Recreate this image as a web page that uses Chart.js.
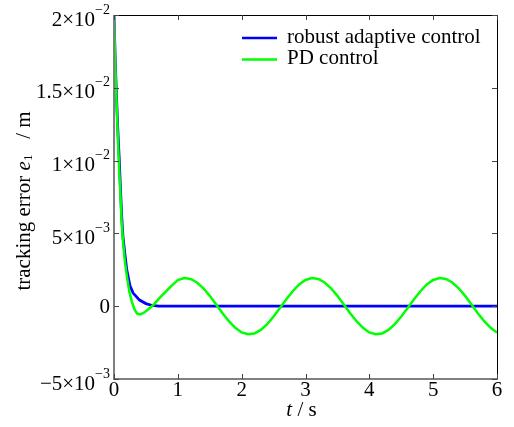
<!DOCTYPE html>
<html>
<head>
<meta charset="utf-8">
<script src="https://cdn.jsdelivr.net/npm/chart.js@4/dist/chart.umd.min.js"></script>
<style>
  body { margin: 0; background: #fff; }
  canvas { display: block; }
</style>
</head>
<body>
<canvas id="errChart" width="514" height="427"></canvas>
<script>
//tracking error data, y values in units of 1e-3 m
var raTime = [0, 0.02, 0.04, 0.06, 0.08, 0.1, 0.12, 0.14, 0.17, 0.2, 0.25, 0.3, 0.4, 0.5, 0.6, 0.7, 1, 2, 3, 4, 5, 6];
var raError = [20, 16.8, 14.3, 12.1, 10.3, 8.2, 6.2, 4.8, 3.6, 2.5, 1.4, 0.9, 0.42, 0.18, 0.05, 0, 0, 0, 0, 0, 0, 0];

var pdTime = [0, 0.02, 0.04, 0.06, 0.08, 0.1, 0.12, 0.14, 0.17, 0.2, 0.24, 0.28, 0.32, 0.36, 0.4, 0.45, 0.5, 0.56, 0.62, 0.7, 0.8, 0.9, 1.0, 1.1,
  1.2, 1.3, 1.4, 1.5, 1.6, 1.7, 1.8, 1.9, 2.0, 2.1,
  2.2, 2.3, 2.4, 2.5, 2.6, 2.7, 2.8, 2.9, 3.0, 3.1,
  3.2, 3.3, 3.4, 3.5, 3.6, 3.7, 3.8, 3.9, 4.0, 4.1,
  4.2, 4.3, 4.4, 4.5, 4.6, 4.7, 4.8, 4.9, 5.0, 5.1,
  5.2, 5.3, 5.4, 5.5, 5.6, 5.7, 5.8, 5.9, 6.0];
var pdError = [20, 16.6, 14.0, 11.6, 9.5, 7.7, 5.8, 4.5, 3.1, 2.1, 1.0, 0.3, -0.2, -0.5, -0.57, -0.5, -0.35, -0.12, 0.1, 0.5, 0.95, 1.4, 1.8, 1.93,
  1.87, 1.63, 1.23, 0.71, 0.12, -0.48, -1.03, -1.49, -1.80, -1.93,
  -1.87, -1.63, -1.23, -0.71, -0.12, 0.48, 1.03, 1.49, 1.80, 1.93,
  1.87, 1.63, 1.23, 0.71, 0.12, -0.48, -1.03, -1.49, -1.80, -1.93,
  -1.87, -1.63, -1.23, -0.71, -0.12, 0.48, 1.03, 1.49, 1.80, 1.93,
  1.87, 1.63, 1.23, 0.71, 0.12, -0.48, -1.03, -1.49, -1.80];

var seriesNames = ["robust adaptive control", "PD control"];
var seriesColors = ["#0000ff", "#00ff00"];

var xTicks = [0, 1, 2, 3, 4, 5, 6];
var yTicks = [-5, 0, 5, 10, 15, 20];
var yTickBase = ["\u22125\u00d710", "0", "5\u00d710", "1\u00d710", "1.5\u00d710", "2\u00d710"];
var yTickExp = ["\u22123", "", "\u22123", "\u22122", "\u22122", "\u22122"];

var FONT = '"Liberation Serif", "Times New Roman", serif';

function toPoints(ts, vs) {
  return ts.map(function (t, i) { return { x: t, y: vs[i] }; });
}

//matlab style box, ticks, labels, legend
var matlabAxes = {
  id: 'matlabAxes',
  afterDraw: function (chart) {
    var ctx = chart.ctx;
    var a = chart.chartArea;
    var xs = chart.scales.x, ys = chart.scales.y;
    ctx.save();

    // box
    ctx.strokeStyle = '#000';
    ctx.lineWidth = 1;
    ctx.beginPath();
    ctx.moveTo(a.left, a.top + 0.5); ctx.lineTo(a.right + 0.5, a.top + 0.5);
    ctx.lineTo(a.right + 0.5, a.bottom);
    ctx.stroke();
    ctx.strokeStyle = '#808080';
    ctx.lineWidth = 2;
    ctx.beginPath();
    ctx.moveTo(a.left, a.top); ctx.lineTo(a.left, a.bottom); ctx.lineTo(a.right + 1, a.bottom);
    ctx.stroke();

    // ticks inside
    ctx.strokeStyle = '#444';
    ctx.lineWidth = 1;
    ctx.beginPath();
    xTicks.forEach(function (v) {
      var px = Math.round(xs.getPixelForValue(v)) + 0.5;
      ctx.moveTo(px, a.bottom); ctx.lineTo(px, a.bottom - 5);
      ctx.moveTo(px, a.top); ctx.lineTo(px, a.top + 5);
    });
    yTicks.forEach(function (v) {
      var py = Math.round(ys.getPixelForValue(v)) + 0.5;
      ctx.moveTo(a.left, py); ctx.lineTo(a.left + 5, py);
      ctx.moveTo(a.right, py); ctx.lineTo(a.right - 5, py);
    });
    ctx.stroke();

    ctx.fillStyle = '#000';
    // x tick labels
    ctx.font = '21px ' + FONT;
    ctx.textAlign = 'center';
    ctx.textBaseline = 'middle';
    xTicks.forEach(function (v) {
      ctx.fillText(String(v), xs.getPixelForValue(v), a.bottom + 11);
    });

    // y tick labels with exponent
    yTicks.forEach(function (v, i) {
      var py = ys.getPixelForValue(v);
      var right = a.left - 4;
      ctx.textAlign = 'right';
      if (yTickExp[i]) {
        ctx.font = '14px ' + FONT;
        var w = ctx.measureText(yTickExp[i]).width;
        ctx.fillText(yTickExp[i], right, py - 5);
        ctx.font = '21px ' + FONT;
        ctx.fillText(yTickBase[i], right - w, py + 5);
      } else {
        ctx.font = '21px ' + FONT;
        ctx.fillText(yTickBase[i], right, py + 1);
      }
    });

    // x title
    ctx.textAlign = 'left';
    ctx.font = 'italic 21px ' + FONT;
    var tW = ctx.measureText('t').width;
    ctx.font = '21px ' + FONT;
    var restW = ctx.measureText(' / s').width;
    var x0 = (a.left + a.right) / 2 - 4 - (tW + restW) / 2;
    ctx.font = 'italic 21px ' + FONT;
    ctx.fillText('t', x0, 410);
    ctx.font = '21px ' + FONT;
    ctx.fillText(' / s', x0 + tW, 410);

    // y title
    ctx.save();
    ctx.translate(24, (a.top + a.bottom) / 2 + 4);
    ctx.rotate(-Math.PI / 2);
    var parts = [
      { s: 'tracking error ', f: '21px ' + FONT, dy: 0 },
      { s: 'e', f: 'italic 21px ' + FONT, dy: 0 },
      { s: '1', f: '13px ' + FONT, dy: 5 },
      { s: '   / m', f: '21px ' + FONT, dy: 0 }
    ];
    var total = 0;
    parts.forEach(function (p) { ctx.font = p.f; p.w = ctx.measureText(p.s).width; total += p.w; });
    var cx = -total / 2;
    parts.forEach(function (p) {
      ctx.font = p.f;
      ctx.fillText(p.s, cx, p.dy);
      cx += p.w;
    });
    ctx.restore();

    // legend
    ctx.font = '21px ' + FONT;
    ctx.textAlign = 'left';
    [38, 59.5].forEach(function (ly, i) {
      ctx.strokeStyle = seriesColors[i];
      ctx.lineWidth = 2.5;
      ctx.beginPath();
      ctx.moveTo(242, ly); ctx.lineTo(277, ly);
      ctx.stroke();
      ctx.fillStyle = '#000';
      ctx.fillText(seriesNames[i], 287, ly - 1);
    });

    ctx.restore();
  }
};

new Chart("errChart", {
  type: "line",
  data: {
    datasets: [{
      label: seriesNames[0],
      data: toPoints(raTime, raError),
      borderColor: seriesColors[0],
      borderWidth: 2.8,
      pointRadius: 0,
      tension: 0,
      order: 1
    }, {
      label: seriesNames[1],
      data: toPoints(pdTime, pdError),
      borderColor: seriesColors[1],
      borderWidth: 2.5,
      pointRadius: 0,
      tension: 0,
      order: 0
    }]
  },
  options: {
    responsive: false,
    animation: false,
    events: [],
    layout: {
      padding: { left: 114, right: 17, top: 15, bottom: 48 }
    },
    plugins: {
      legend: { display: false },
      tooltip: { enabled: false }
    },
    scales: {
      x: { type: "linear", min: 0, max: 6, display: false },
      y: { type: "linear", min: -5, max: 20, display: false }
    }
  },
  plugins: [matlabAxes]
});
</script>
</body>
</html>
